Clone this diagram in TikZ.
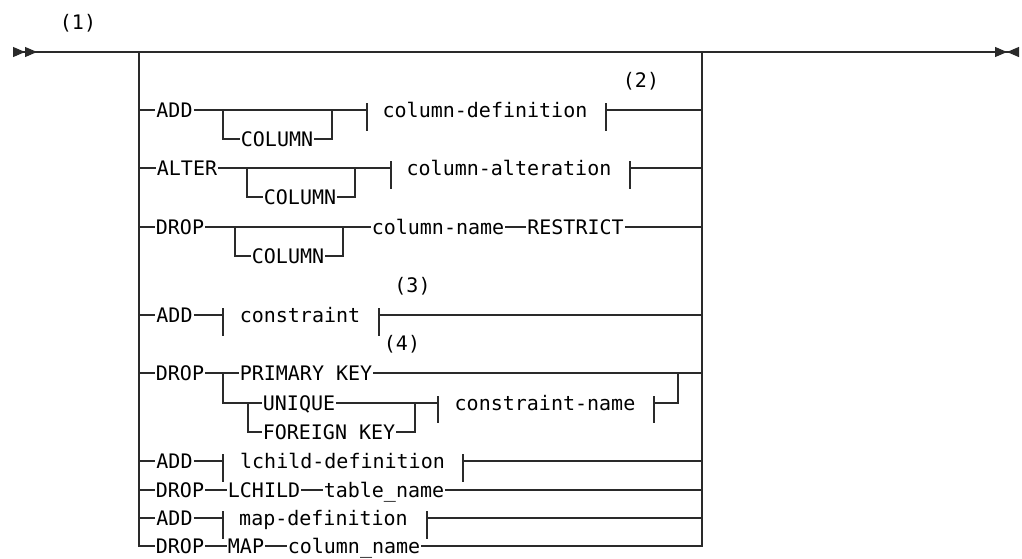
\documentclass[tikz,border=0pt]{standalone}
\usepackage{fontspec}
\setmonofont{DejaVu Sans Mono}
\usetikzlibrary{positioning, arrows.meta}
\definecolor{railcolor}{HTML}{2A2A2A}

\begin{document}
\begin{tikzpicture}[x=1pt, y=-1pt,
    rail/.style={draw=railcolor, line width=1.1pt},
    railend/.style={arrows={{Triangle[reversed,length=12pt,width=10pt] Triangle[reversed,length=12pt,width=10pt]}-{Triangle[length=12pt,width=10pt] Triangle[reversed,length=12pt,width=10pt]}}},
    kw/.style={inner xsep=1pt, inner ysep=0pt, text height=14.5pt, text depth=0pt, font=\ttfamily\fontsize{20}{24}\selectfont},
    note/.style={inner sep=0pt, anchor=base, font=\ttfamily\fontsize{20}{24}\selectfont},
  ]
    \useasboundingbox (0,0) rectangle (1022,558);

    % main rail and the two side rails
    \coordinate (start) at (13,52);
    \coordinate (stop) at (1019,52);
    \coordinate (ltop) at (139,52);
    \coordinate (lbot) at (139,546);
    \coordinate (rtop) at (702,52);
    \coordinate (rbot) at (702,546);
    \node[note] (n1) at (78,29.5) {(1)};
    \draw[rail, railend] (start) -- (stop);

    % ADD COLUMN column-definition
    \node[kw] (add1) at (174.5,110) {ADD};
    \node[kw] (col1) at (277,139) {COLUMN};
    \node[kw] (coldef) at (485,110) {column-definition};
    \node[note] (n2) at (641,87) {(2)};
    \coordinate (add1a) at (223,110);
    \coordinate (add1b) at (332,110);
    \coordinate (coldefL) at (367,110);
    \coordinate (coldefR) at (606,110);
    \draw[rail] (ltop |- add1) -- (add1);
    \draw[rail] (add1) -- (coldefL);
    \draw[rail] (add1a) |- (col1);
    \draw[rail] (col1) -| (add1b);
    \draw[rail] (coldefL) ++(0,-7) -- ++(0,28);
    \draw[rail] (coldefR) ++(0,-7) -- ++(0,28);
    \draw[rail] (coldefR) -- (coldefR -| rtop);

    % ALTER COLUMN column-alteration
    \node[kw] (alter2) at (187,168) {ALTER};
    \node[kw] (col2) at (300,197) {COLUMN};
    \node[kw] (colalt) at (509,168) {column-alteration};
    \coordinate (alter2a) at (247,168);
    \coordinate (alter2b) at (355,168);
    \coordinate (colaltL) at (391,168);
    \coordinate (colaltR) at (630,168);
    \draw[rail] (ltop |- alter2) -- (alter2);
    \draw[rail] (alter2) -- (colaltL);
    \draw[rail] (alter2a) |- (col2);
    \draw[rail] (col2) -| (alter2b);
    \draw[rail] (colaltL) ++(0,-7) -- ++(0,28);
    \draw[rail] (colaltR) ++(0,-7) -- ++(0,28);
    \draw[rail] (colaltR) -- (colaltR -| rtop);

    % DROP COLUMN column-name RESTRICT
    \node[kw] (drop3) at (180,227) {DROP};
    \node[kw] (col3) at (288,256) {COLUMN};
    \node[kw] (colname) at (438,227) {column-name};
    \node[kw] (restrict) at (575.5,227) {RESTRICT};
    \coordinate (drop3a) at (235,227);
    \coordinate (drop3b) at (343,227);
    \draw[rail] (ltop |- drop3) -- (drop3);
    \draw[rail] (drop3) -- (colname);
    \draw[rail] (drop3a) |- (col3);
    \draw[rail] (col3) -| (drop3b);
    \draw[rail] (colname) -- (restrict);
    \draw[rail] (restrict) -- (restrict -| rtop);

    % ADD constraint
    \node[kw] (add4) at (174.5,315) {ADD};
    \node[kw] (cons) at (300,315) {constraint};
    \node[note] (n3) at (412.5,292.5) {(3)};
    \coordinate (consL) at (223,315);
    \coordinate (consR) at (379,315);
    \draw[rail] (ltop |- add4) -- (add4);
    \draw[rail] (add4) -- (consL);
    \draw[rail] (consL) ++(0,-7) -- ++(0,28);
    \draw[rail] (consR) ++(0,-7) -- ++(0,28);
    \draw[rail] (consR) -- (consR -| rtop);

    % DROP PRIMARY KEY / UNIQUE / FOREIGN KEY constraint-name
    \node[kw] (drop5) at (180,373) {DROP};
    \node[kw] (pk) at (306,373) {PRIMARY KEY};
    \node[note] (n4) at (402,350) {(4)};
    \node[kw] (uniq) at (299,403) {UNIQUE};
    \node[kw] (fk) at (329,432) {FOREIGN KEY};
    \node[kw] (cname) at (545,403) {constraint-name};
    \coordinate (drop5a) at (223,373);
    \coordinate (uniqa) at (248,403);
    \coordinate (fkb) at (415,403);
    \coordinate (cnameL) at (438,403);
    \coordinate (cnameR) at (654,403);
    \coordinate (pkb) at (678,373);
    \draw[rail] (ltop |- drop5) -- (drop5);
    \draw[rail] (drop5) -- (pk);
    \draw[rail] (pk) -- (pk -| rtop);
    \draw[rail] (drop5a) |- (uniq);
    \draw[rail] (uniqa) |- (fk);
    \draw[rail] (uniq) -- (cnameL);
    \draw[rail] (fk) -| (fkb);
    \draw[rail] (cnameL) ++(0,-7) -- ++(0,27);
    \draw[rail] (cnameR) ++(0,-7) -- ++(0,27);
    \draw[rail] (cnameR) -| (pkb);

    % ADD lchild-definition
    \node[kw] (add6) at (174.5,461) {ADD};
    \node[kw] (lchdef) at (342.5,461) {lchild-definition};
    \coordinate (lchdefL) at (223,461);
    \coordinate (lchdefR) at (463,461);
    \draw[rail] (ltop |- add6) -- (add6);
    \draw[rail] (add6) -- (lchdefL);
    \draw[rail] (lchdefL) ++(0,-7) -- ++(0,28);
    \draw[rail] (lchdefR) ++(0,-7) -- ++(0,28);
    \draw[rail] (lchdefR) -- (lchdefR -| rtop);

    % DROP LCHILD table_name
    \node[kw] (drop7) at (180,490) {DROP};
    \node[kw] (lchild) at (264,490) {LCHILD};
    \node[kw] (tname) at (384,490) {table\_name};
    \draw[rail] (ltop |- drop7) -- (drop7);
    \draw[rail] (drop7) -- (lchild);
    \draw[rail] (lchild) -- (tname);
    \draw[rail] (tname) -- (tname -| rtop);

    % ADD map-definition
    \node[kw] (add8) at (174.5,518) {ADD};
    \node[kw] (mapdef) at (323.5,518) {map-definition};
    \coordinate (mapdefL) at (223,518);
    \coordinate (mapdefR) at (427,518);
    \draw[rail] (ltop |- add8) -- (add8);
    \draw[rail] (add8) -- (mapdefL);
    \draw[rail] (mapdefL) ++(0,-7) -- ++(0,28);
    \draw[rail] (mapdefR) ++(0,-7) -- ++(0,28);
    \draw[rail] (mapdefR) -- (mapdefR -| rtop);

    % DROP MAP column_name
    \node[kw] (drop9) at (180,546) {DROP};
    \node[kw] (mapkw) at (246,546) {MAP};
    \node[kw] (colname9) at (354,546) {column\_name};
    \draw[rail] (ltop) -- (lbot) -- (drop9);
    \draw[rail] (drop9) -- (mapkw);
    \draw[rail] (mapkw) -- (colname9);
    \draw[rail] (colname9) -- (rbot) -- (rtop);
  \end{tikzpicture}
\end{document}
